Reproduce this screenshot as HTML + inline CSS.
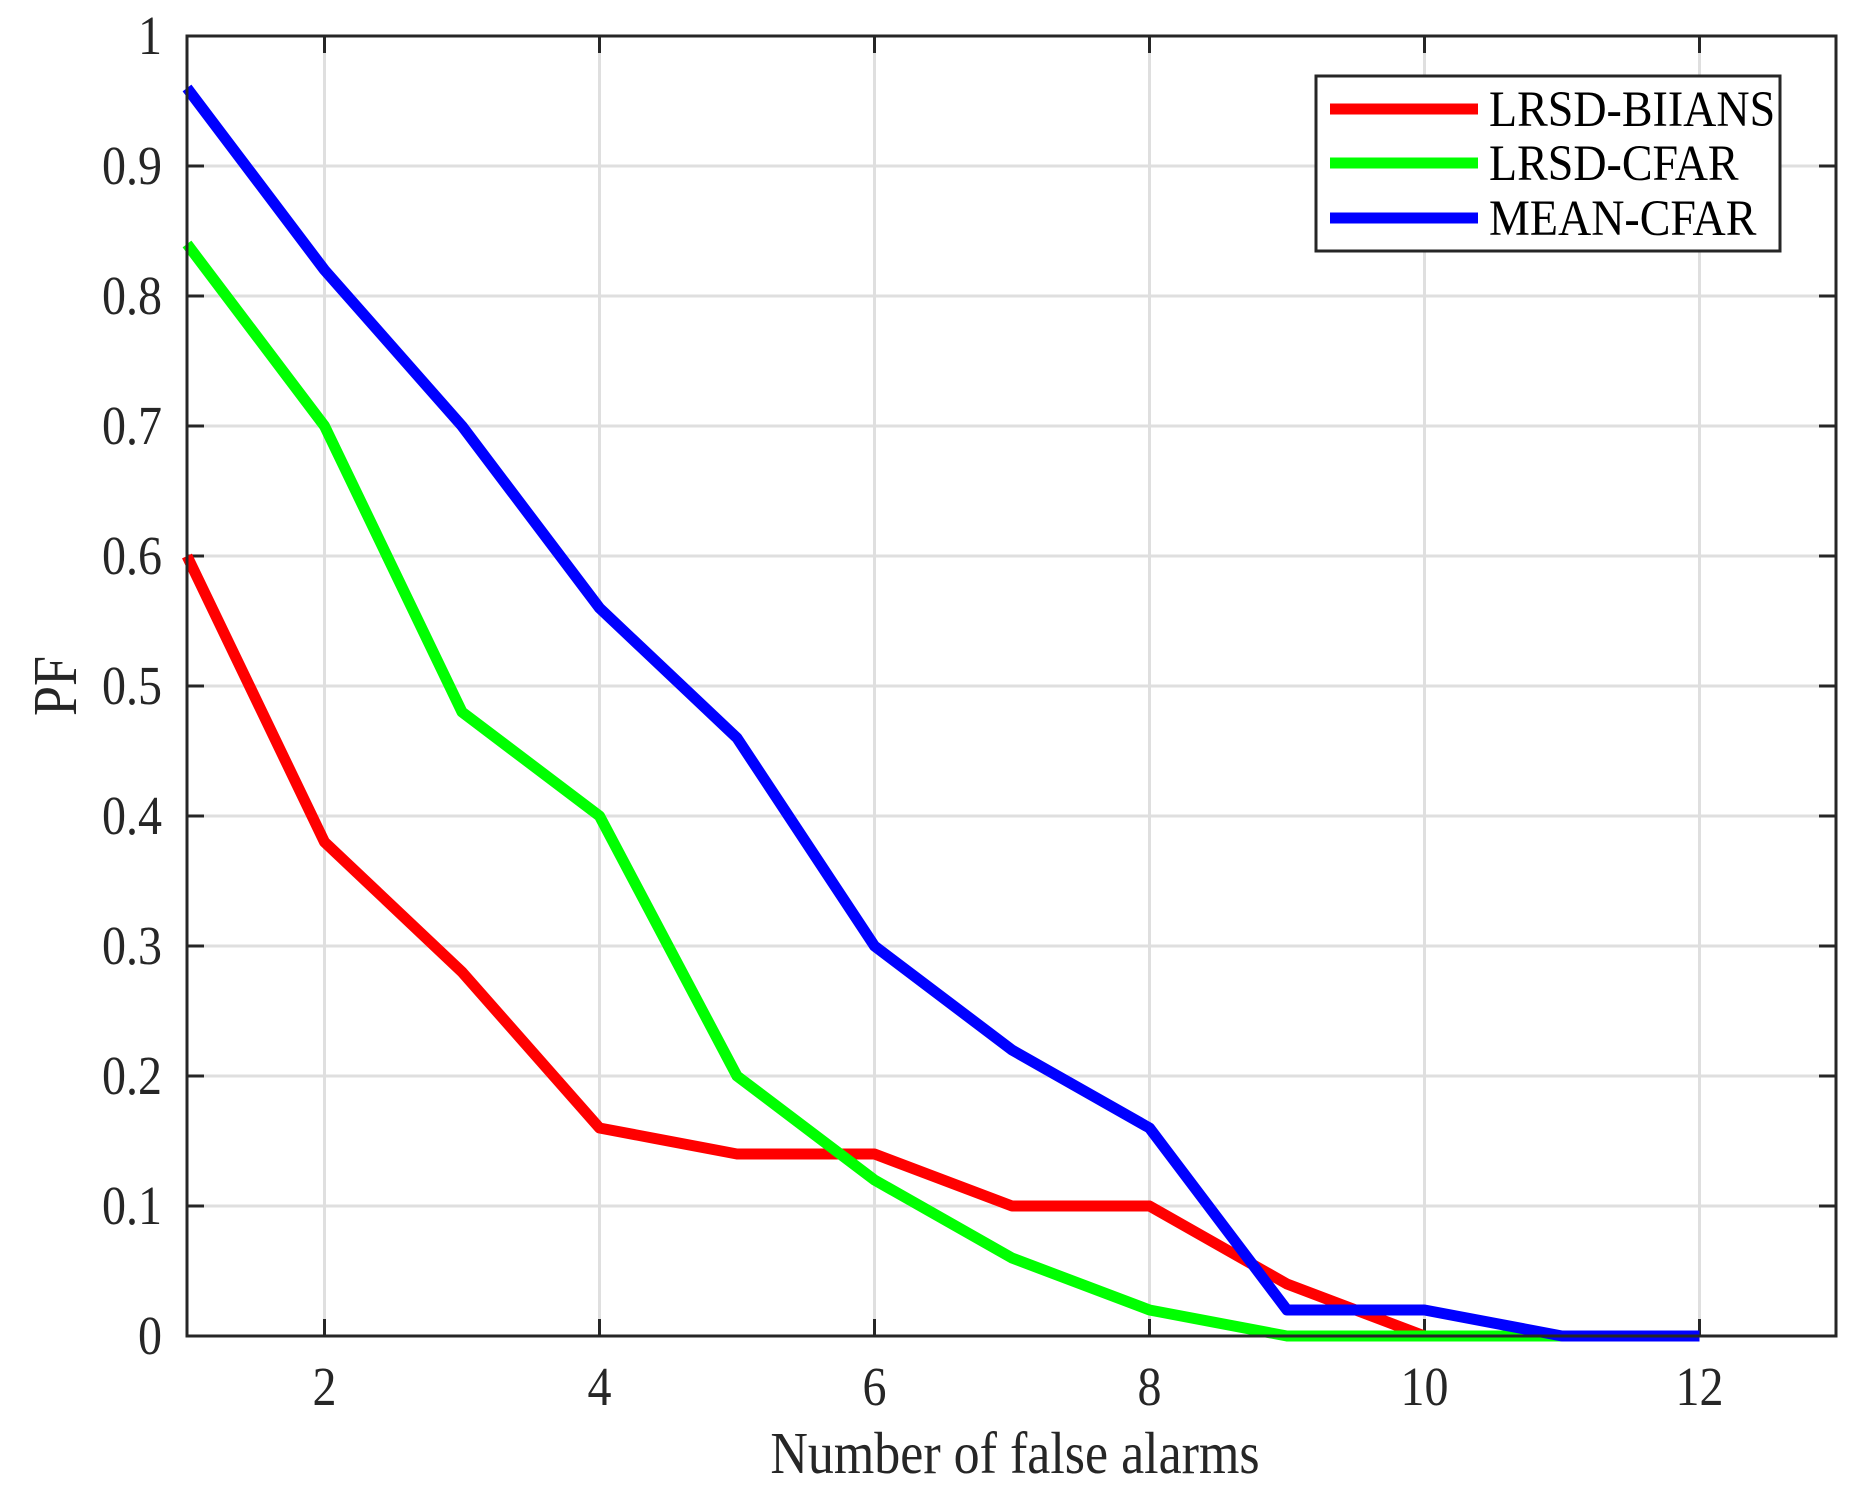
<!DOCTYPE html>
<html><head><style>body{margin:0;background:#fff}svg{display:block}</style></head><body>
<svg width="1874" height="1501" xmlns="http://www.w3.org/2000/svg" font-family="Liberation Serif, serif" fill="#262626">
<rect width="1874" height="1501" fill="#fff"/>
<g stroke="#dfdfdf" stroke-width="3">
<line x1="324.5" y1="36" x2="324.5" y2="1336"/><line x1="599.5" y1="36" x2="599.5" y2="1336"/><line x1="874.5" y1="36" x2="874.5" y2="1336"/><line x1="1149.5" y1="36" x2="1149.5" y2="1336"/><line x1="1424.5" y1="36" x2="1424.5" y2="1336"/><line x1="1699.5" y1="36" x2="1699.5" y2="1336"/>
<line x1="187" y1="166" x2="1836" y2="166"/><line x1="187" y1="296" x2="1836" y2="296"/><line x1="187" y1="426" x2="1836" y2="426"/><line x1="187" y1="556" x2="1836" y2="556"/><line x1="187" y1="686" x2="1836" y2="686"/><line x1="187" y1="816" x2="1836" y2="816"/><line x1="187" y1="946" x2="1836" y2="946"/><line x1="187" y1="1076" x2="1836" y2="1076"/><line x1="187" y1="1206" x2="1836" y2="1206"/>
</g>
<g stroke="#262626" stroke-width="3">
<path d="M324.5,1336v-17M599.5,1336v-17M874.5,1336v-17M1149.5,1336v-17M1424.5,1336v-17M1699.5,1336v-17M324.5,36v17M599.5,36v17M874.5,36v17M1149.5,36v17M1424.5,36v17M1699.5,36v17"/>
<path d="M187,166h17M187,296h17M187,426h17M187,556h17M187,686h17M187,816h17M187,946h17M187,1076h17M187,1206h17M1836,166h-17M1836,296h-17M1836,426h-17M1836,556h-17M1836,686h-17M1836,816h-17M1836,946h-17M1836,1076h-17M1836,1206h-17"/>
</g>
<g fill="none" stroke-width="11" stroke-linejoin="round">
<polyline stroke="#f00" points="187,556 324.5,842 462,972 599.5,1128 737,1154 874.5,1154 1012,1206 1149.5,1206 1287,1284 1424.5,1336"/>
<polyline stroke="#0f0" points="187,244 324.5,426 462,712 599.5,816 737,1076 874.5,1180 1012,1258 1149.5,1310 1287,1336 1424.5,1336 1562,1336"/>
<polyline stroke="#00f" points="187,88 324.5,270 462,426 599.5,608 737,738 874.5,946 1012,1050 1149.5,1128 1287,1310 1424.5,1310 1562,1336 1699.5,1336"/>
</g>
<rect x="187" y="36" width="1649" height="1300" fill="none" stroke="#262626" stroke-width="3"/>
<g font-size="48" text-anchor="end">
<text transform="translate(162,54) scale(1,1.15)">1</text><text transform="translate(162,184) scale(1,1.15)">0.9</text><text transform="translate(162,314) scale(1,1.15)">0.8</text><text transform="translate(162,444) scale(1,1.15)">0.7</text><text transform="translate(162,574) scale(1,1.15)">0.6</text><text transform="translate(162,704) scale(1,1.15)">0.5</text><text transform="translate(162,834) scale(1,1.15)">0.4</text><text transform="translate(162,964) scale(1,1.15)">0.3</text><text transform="translate(162,1094) scale(1,1.15)">0.2</text><text transform="translate(162,1224) scale(1,1.15)">0.1</text><text transform="translate(162,1354) scale(1,1.15)">0</text>
</g>
<g font-size="48" text-anchor="middle">
<text transform="translate(324.5,1405) scale(1,1.15)">2</text><text transform="translate(599.5,1405) scale(1,1.15)">4</text><text transform="translate(874.5,1405) scale(1,1.15)">6</text><text transform="translate(1149.5,1405) scale(1,1.15)">8</text><text transform="translate(1424.5,1405) scale(1,1.15)">10</text><text transform="translate(1699.5,1405) scale(1,1.15)">12</text>
<text transform="translate(1015,1473) scale(1,1.15)" font-size="52">Number of false alarms</text>
<text transform="translate(76,686) rotate(-90) scale(1,1.15)" font-size="54">PF</text>
</g>
<rect x="1316" y="76" width="464" height="175" fill="#fff" stroke="#262626" stroke-width="3"/>
<g stroke-width="11"><line x1="1330" y1="109" x2="1478" y2="109" stroke="#f00"/><line x1="1330" y1="163" x2="1478" y2="163" stroke="#0f0"/><line x1="1330" y1="218" x2="1478" y2="218" stroke="#00f"/></g>
<g font-size="46" fill="#000"><text transform="translate(1489,126) scale(1,1.1)">LRSD-BIIANS</text><text transform="translate(1489,180) scale(1,1.1)">LRSD-CFAR</text><text transform="translate(1489,235) scale(1,1.1)">MEAN-CFAR</text></g>
</svg>
</body></html>
